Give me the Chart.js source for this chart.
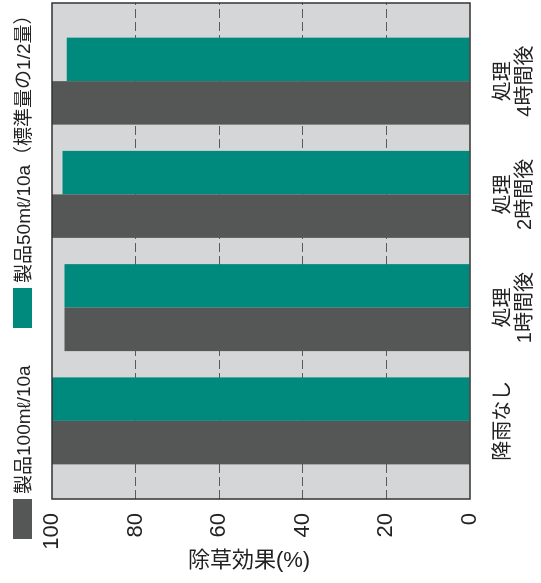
<!DOCTYPE html>
<html><head><meta charset="utf-8">
<script src="https://cdn.jsdelivr.net/npm/chart.js@4.4.1/dist/chart.umd.min.js"></script>
<style>
html,body{margin:0;padding:0;background:#fff;overflow:hidden;width:541px;height:583px;}
#wrap{position:absolute;left:0;top:0;width:583px;height:541px;transform-origin:0 0;transform:translate(0,583px) rotate(-90deg);}
#c{position:absolute;left:0;top:0;}
.box{position:absolute;top:13px;width:40px;height:19px;}
.txt{position:absolute;top:22.5px;transform:translateY(-50%);font:19px "Liberation Sans","Noto Sans CJK JP",sans-serif;white-space:nowrap;color:#222;line-height:1;}
</style></head><body>
<div id="wrap"><canvas id="c" width="583" height="541"></canvas><div id="legend"></div></div>
<script>
// ---- data ----
const categories = ['降雨なし', '処理\n1時間後', '処理\n2時間後', '処理\n4時間後'];
const seriesNames = ['製品100mℓ/10a', '製品50mℓ/10a（標準量の1/2量）'];
const seriesColors = ['#555756', '#00897d'];
const product100 = [100, 97, 100, 100];
const product50 = [100, 97, 97.5, 96.5];
const valueTicks = [0, 20, 40, 60, 80, 100];
const axisTitle = '除草効果(%)';

const seriesValues = [product100, product50];
const FONT = '"Liberation Sans", "Noto Sans CJK JP", sans-serif';

// ---- legend (HTML) ----
const legendLeft = [44, 255];
const lg = document.getElementById('legend');
seriesNames.forEach((n, k) => {
  const b = document.createElement('span');
  b.className = 'box'; b.style.left = legendLeft[k] + 'px'; b.style.background = seriesColors[k];
  const t = document.createElement('span');
  t.className = 'txt'; t.style.left = (legendLeft[k] + 45) + 'px'; t.textContent = n;
  lg.appendChild(b); lg.appendChild(t);
});

const bgPlugin = {
  id: 'bg',
  beforeDraw(ch) {
    const a = ch.chartArea, c = ch.ctx;
    c.save(); c.fillStyle = '#d5d6d8';
    c.fillRect(a.left, a.top, a.right - a.left, a.bottom - a.top);
    c.restore();
  },
  afterDraw(ch) {
    const a = ch.chartArea, c = ch.ctx;
    c.save();
    c.strokeStyle = '#333'; c.lineWidth = 1.5;
    c.strokeRect(a.left, a.top, a.right - a.left, a.bottom - a.top);
    c.font = '22px ' + FONT; c.fillStyle = '#222';
    c.textAlign = 'center'; c.textBaseline = 'middle';
    c.translate(22, (a.top + a.bottom) / 2 - 12);
    c.rotate(Math.PI / 2);
    c.fillText(axisTitle, 0, 0);
    c.restore();
  }
};

new Chart(document.getElementById('c'), {
  type: 'bar',
  data: {
    datasets: seriesNames.map((n, k) => ({
      label: n,
      data: seriesValues[k].map((v, i) => ({ x: i, y: v })),
      backgroundColor: seriesColors[k],
      borderWidth: 0,
      categoryPercentage: 0.768,
      barPercentage: 1
    }))
  },
  options: {
    responsive: false, animation: false, devicePixelRatio: 1,
    layout: { padding: { top: 52, right: 3, left: 0, bottom: 0 } },
    plugins: { legend: { display: false }, tooltip: { enabled: false } },
    scales: {
      x: {
        type: 'linear', min: -0.69, max: 3.69, offset: false, bounds: 'data',
        afterBuildTicks: s => { s.ticks = categories.map((_, i) => ({ value: i })); },
        afterFit: s => { s.height = 71; },
        grid: { display: false, offset: false }, border: { display: false },
        ticks: {
          callback: v => (categories[v] !== undefined ? categories[v].split('\n') : ''),
          font: { family: FONT, size: 20, lineHeight: 1.1 }, color: '#222',
          padding: 14, maxRotation: 0, minRotation: 0, autoSkip: false
        }
      },
      y: {
        min: 0, max: 100,
        afterBuildTicks: s => { s.ticks = valueTicks.map(v => ({ value: v })); },
        afterFit: s => { s.width = 84; },
        grid: {
          color: c => (c.tick && (c.tick.value === 0 || c.tick.value === 100)) ? 'rgba(0,0,0,0)' : '#5a5a5a',
          lineWidth: 1, drawTicks: false
        },
        border: { display: false, dash: [9, 4] },
        ticks: { font: { family: FONT, size: 22 }, color: '#222', padding: 14 }
      }
    }
  },
  plugins: [bgPlugin]
});
</script>
</body></html>
